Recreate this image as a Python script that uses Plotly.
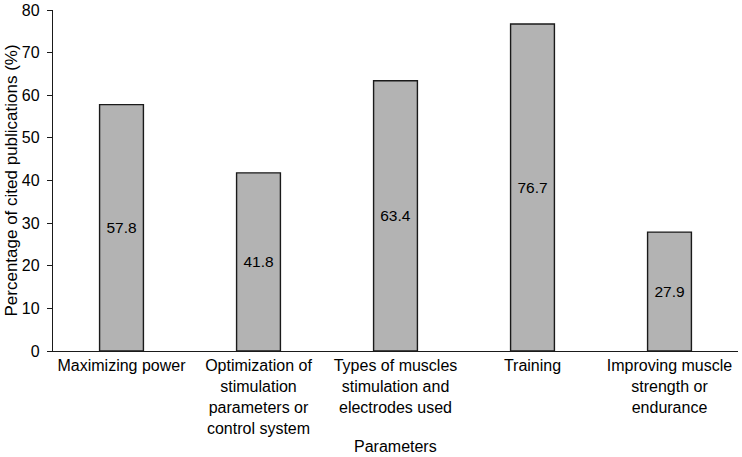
import plotly.graph_objects as go

categories = [
    "Maximizing power",
    "Optimization of<br>stimulation<br>parameters or<br>control system",
    "Types of muscles<br>stimulation and<br>electrodes used",
    "Training",
    "Improving muscle<br>strength or<br>endurance",
]
values = [57.8, 41.8, 63.4, 76.7, 27.9]
y_ticks = [0, 10, 20, 30, 40, 50, 60, 70, 80]

FONT = "Liberation Sans, Arial"

fig = go.Figure(go.Bar(
    x=categories,
    y=values,
    text=[f"{v:.1f}" for v in values],
    textposition="inside",
    insidetextanchor="middle",
    textfont=dict(size=15.5, color="black", family=FONT),
    marker=dict(color="#b3b3b3", line=dict(color="#1a1a1a", width=1.4)),
    width=0.32,
))

fig.update_layout(
    width=742, height=457,
    margin=dict(l=53, r=4, t=10, b=106),
    plot_bgcolor="white", paper_bgcolor="white",
    font=dict(family=FONT, size=16, color="black"),
    showlegend=False,
    annotations=[
        dict(text="Percentage of cited publications (%)", xref="paper", yref="paper",
             x=-0.0613, y=0.5, xanchor="center", yanchor="middle", textangle=-90,
             showarrow=False, font=dict(size=17, family=FONT, color="black")),
        dict(text="Parameters", xref="paper", yref="paper",
             x=0.5, y=-0.2815, xanchor="center", yanchor="middle",
             showarrow=False, font=dict(size=16, family=FONT, color="black")),
    ],
)
fig.update_yaxes(
    range=[0, 80], tickvals=y_ticks, showgrid=False,
    showline=True, linecolor="#1a1a1a", linewidth=1.4,
    ticks="outside", ticklen=5, tickcolor="#1a1a1a", tickwidth=1.4,
    tickfont=dict(size=16), ticklabelstandoff=4,
    zeroline=False, automargin=False,
)
fig.update_xaxes(
    showline=True, linecolor="#1a1a1a", linewidth=1.4,
    ticks="", showgrid=False,
    tickfont=dict(size=16), automargin=False,
)

fig.write_html(
    "out.html",
    config={"displayModeBar": False},
    post_script="document.body.style.margin='0';",
)
